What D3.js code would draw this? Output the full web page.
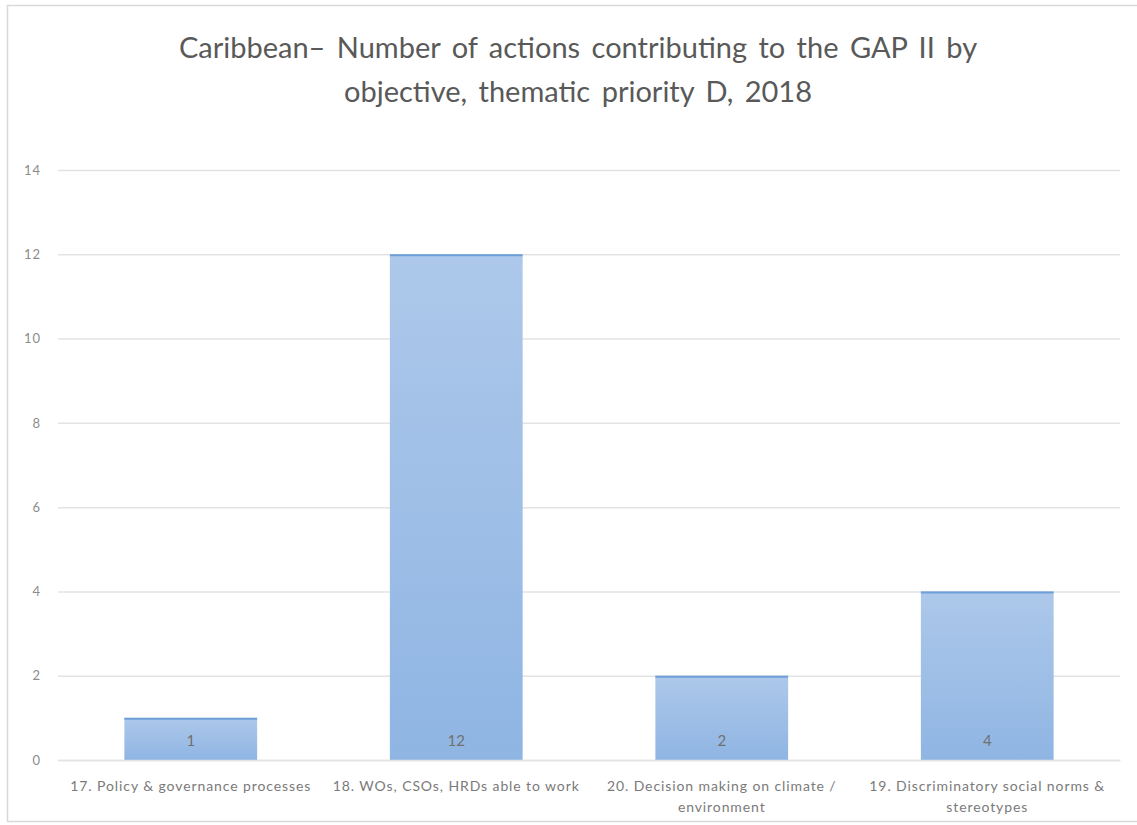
<!DOCTYPE html>
<html>
<head>
<meta charset="utf-8">
<script src="https://cdn.jsdelivr.net/npm/d3@7"></script>
<style>
  body { margin: 0; background: #fff; }
  text { font-family: Lato, "Open Sans", sans-serif; }
</style>
</head>
<body>
<div id="main"></div>
<script>
// DATA
const title_lines = [
    "Caribbean\u2013 Number of actions contributing to the GAP II by"
  , "objective, thematic priority D, 2018"
]
const categories = [
    "17. Policy & governance processes"
  , "18. WOs, CSOs, HRDs able to work"
  , "20. Decision making on climate /\nenvironment"
  , "19. Discriminatory social norms &\nstereotypes"
]
const values = [1, 12, 2, 4]
const y_ticks = [0, 2, 4, 6, 8, 10, 12, 14]

// SETUP
const width = 1137
const height = 825
const margin = {top: 170, right: 17, bottom: 65, left: 58}

const x = d3.scaleBand()
    .domain(categories)
    .range([margin.left, width - margin.right])
    .paddingInner(0.5)
    .paddingOuter(0.25)

const y = d3.scaleLinear()
    .domain([0, 14])
    .range([height - margin.bottom, margin.top])

const svg = d3.select("#main").append("svg")
    .attr("width", width)
    .attr("height", height)

const defs = svg.append("defs")
const grad = defs.append("linearGradient")
    .attr("id", "bar-fill")
    .attr("x1", 0).attr("y1", 0).attr("x2", 0).attr("y2", 1)
grad.append("stop").attr("offset", "0%").attr("stop-color", "#adc8ea")
grad.append("stop").attr("offset", "100%").attr("stop-color", "#8fb5e3")

// chart frame
svg.append("rect")
    .attr("x", 7.5).attr("y", 5.5)
    .attr("width", width + 10).attr("height", height - 9)
    .attr("fill", "none")
    .attr("stroke", "#d9d9d9")
    .attr("stroke-width", 1.5)

// title
svg.append("text")
    .attr("text-anchor", "middle")
    .attr("fill", "#595959")
    .style("font-size", "29px")
    .style("word-spacing", "4px")
    .selectAll("tspan")
    .data(title_lines)
    .enter().append("tspan")
        .attr("x", 578)
        .attr("y", (d, i) => 58 + i * 44)
        .text(d => d)

// y axis + grid
const yAxis = svg.append("g")
    .attr("transform", `translate(${margin.left},0)`)
    .call(d3.axisLeft(y).tickValues(y_ticks).tickSize(-(width - margin.left - margin.right)).tickPadding(17))
yAxis.select(".domain").remove()
yAxis.selectAll(".tick line").attr("stroke", "#e3e3e3").attr("stroke-width", 1.5)
yAxis.selectAll(".tick text")
    .attr("fill", "#8c8c8c")
    .style("font-size", "13px")
    .style("letter-spacing", "1px")

// bars
const bars = svg.selectAll("g.bar")
    .data(categories)
    .enter().append("g")
        .attr("class", "bar")

bars.append("rect")
    .attr("x", d => x(d))
    .attr("y", (d, i) => y(values[i]))
    .attr("width", x.bandwidth())
    .attr("height", (d, i) => y(0) - y(values[i]))
    .attr("fill", "url(#bar-fill)")

bars.append("line")
    .attr("x1", d => x(d))
    .attr("x2", d => x(d) + x.bandwidth())
    .attr("y1", (d, i) => y(values[i]) + 1)
    .attr("y2", (d, i) => y(values[i]) + 1)
    .attr("stroke", "#6f9fd8")
    .attr("stroke-width", 2)

bars.append("text")
    .attr("x", d => x(d) + x.bandwidth() / 2)
    .attr("y", y(0) - 14)
    .attr("text-anchor", "middle")
    .attr("fill", "#707070")
    .style("font-size", "15px")
    .text((d, i) => values[i])

// category labels
const xAxis = svg.append("g")
    .attr("transform", `translate(0,${y(0)})`)
    .call(d3.axisBottom(x).tickSize(0).tickFormat(""))
xAxis.select(".domain").attr("stroke", "#e3e3e3").attr("stroke-width", 1.5)

svg.selectAll("text.cat")
    .data(categories)
    .enter().append("text")
        .attr("class", "cat")
        .attr("text-anchor", "middle")
        .attr("fill", "#7a7a7a")
        .style("font-size", "14px")
        .style("letter-spacing", "0.9px")
        .each(function(d) {
            const cx = x(d) + x.bandwidth() / 2
            d3.select(this).selectAll("tspan")
                .data(d.split("\n"))
                .enter().append("tspan")
                    .attr("x", cx)
                    .attr("y", (t, i) => y(0) + 31 + i * 21)
                    .text(t => t)
        })
</script>
</body>
</html>
